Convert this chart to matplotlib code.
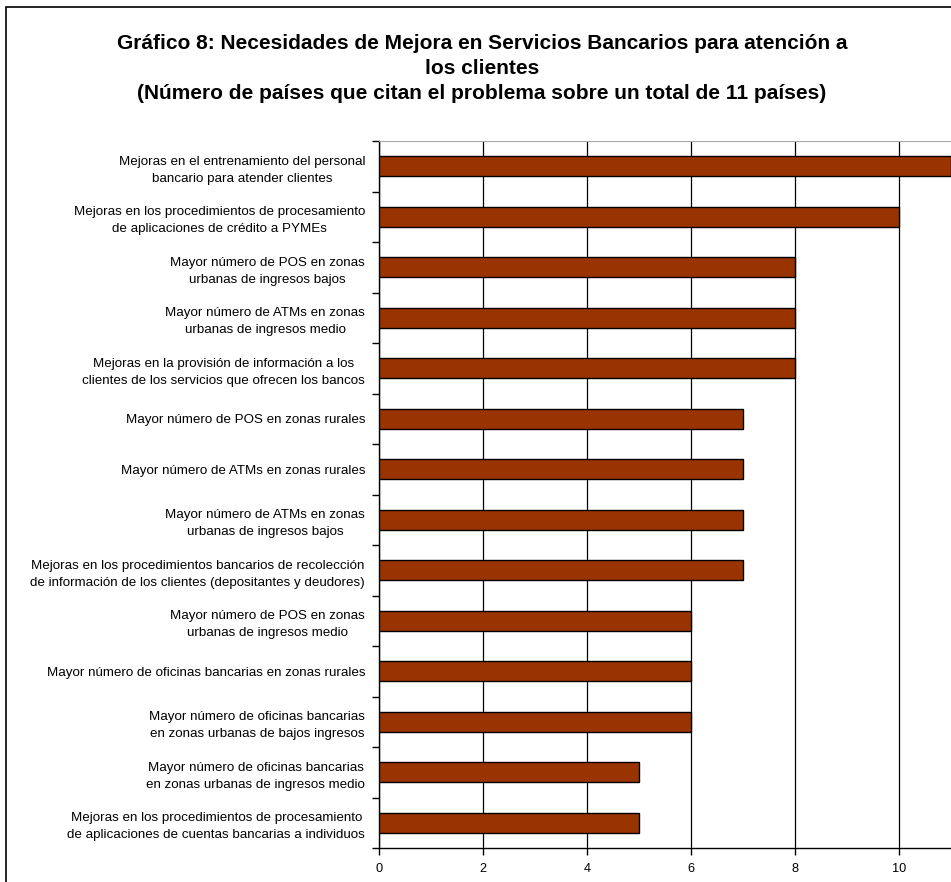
import matplotlib.pyplot as plt
from matplotlib.patches import Rectangle

plt.rcParams['font.family'] = ['Liberation Sans', 'DejaVu Sans']

# datos (de arriba hacia abajo)
categorias = [
    "Mejoras en el entrenamiento del personal\nbancario para atender clientes",
    "Mejoras en los procedimientos de procesamiento\nde aplicaciones de crédito a PYMEs",
    "Mayor número de POS en zonas\nurbanas de ingresos bajos",
    "Mayor número de ATMs en zonas\nurbanas de ingresos medio",
    "Mejoras en la provisión de información a los\nclientes de los servicios que ofrecen los bancos",
    "Mayor número de POS en zonas rurales",
    "Mayor número de ATMs en zonas rurales",
    "Mayor número de ATMs en zonas\nurbanas de ingresos bajos",
    "Mejoras en los procedimientos bancarios de recolección\nde información de los clientes (depositantes y deudores)",
    "Mayor número de POS en zonas\nurbanas de ingresos medio",
    "Mayor número de oficinas bancarias en zonas rurales",
    "Mayor número de oficinas bancarias\nen zonas urbanas de bajos ingresos",
    "Mayor número de oficinas bancarias\nen zonas urbanas de ingresos medio",
    "Mejoras en los procedimientos de procesamiento\nde aplicaciones de cuentas bancarias a individuos",
]
paises = [11, 10, 8, 8, 8, 7, 7, 7, 7, 6, 6, 6, 5, 5]
xticks = [0, 2, 4, 6, 8, 10]

titulo = ("Gráfico 8: Necesidades de Mejora en Servicios Bancarios para atención a\n"
          "los clientes\n"
          "(Número de países que citan el problema sobre un total de 11 países)")

fig = plt.figure(figsize=(9.51, 8.82), dpi=100)
ax = fig.add_axes([379/951, 34/882, 1 - 379/951, (848-141)/882])

n = len(categorias)
pos = list(range(n))
ax.barh(pos, paises, height=0.4, color='#993300', edgecolor='black', linewidth=1, zorder=3)

ax.set_ylim(n - 0.5, -0.5)
ax.set_xlim(0, 11)
ax.set_yticks(pos)
ax.set_yticklabels(categorias, fontsize=9.6, multialignment='center', linespacing=1.58)
ax.tick_params(axis='y', length=0, pad=10)
# marcas entre categorias
ax.set_yticks([i - 0.5 for i in range(n + 1)], minor=True)
ax.tick_params(axis='y', which='minor', length=5, width=1, color='black')

ax.set_xticks(xticks)
ax.set_xticklabels([str(v) for v in xticks], fontsize=9.2)
ax.tick_params(axis='x', length=5, width=1, pad=6)

ax.grid(axis='x', color='black', linewidth=0.9, zorder=0)
ax.spines['right'].set_visible(False)
ax.spines['top'].set_color('#aaaaaa')
ax.spines['left'].set_linewidth(1)
ax.spines['bottom'].set_linewidth(1)

fig.text(482/951, 1 - 34/882, titulo, ha='center', va='top', fontsize=15,
         fontweight='bold', linespacing=1.4)

# borde exterior del grafico
fig.add_artist(Rectangle((6/951, -0.1), 2, 1 - 7/882 + 0.1, transform=fig.transFigure,
                         fill=False, edgecolor='black', linewidth=1.2, clip_on=False))

fig.savefig('out.png', dpi=100)
